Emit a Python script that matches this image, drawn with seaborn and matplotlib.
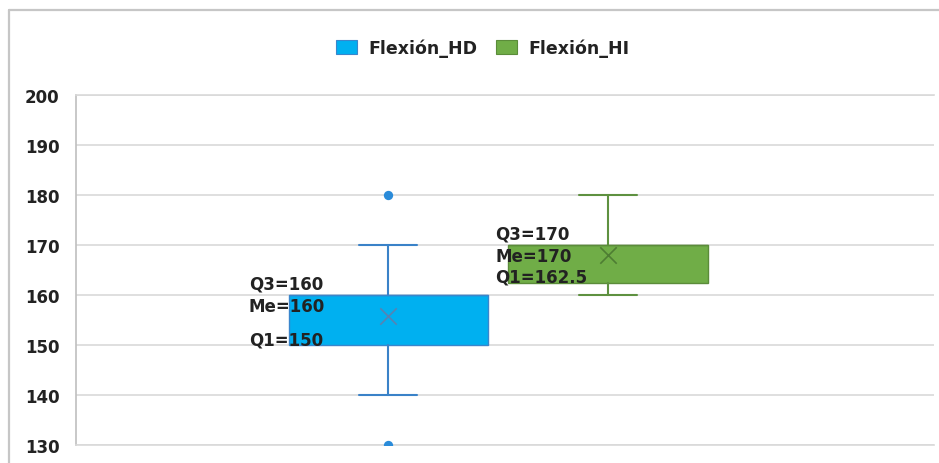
import matplotlib
matplotlib.use("Agg")
import matplotlib.pyplot as plt
from matplotlib.patches import Patch
from matplotlib.lines import Line2D
import pandas as pd
import seaborn as sns

# Box-and-whisker summary for each series
series = ["Flexión_HD", "Flexión_HI"]
q1 = [150, 162.5]
median = [160, 170]
q3 = [160, 170]
whisker_low = [140, 160]
whisker_high = [170, 180]
mean = [155.8, 168]
outliers = [[180, 130], []]
y_ticks = [130, 140, 150, 160, 170, 180, 190, 200]

fill_colors = ["#00B0F0", "#70AD47"]
edge_colors = ["#3A86CC", "#5B8C3A"]
whisker_colors = ["#3A82C8", "#5E9140"]
mean_colors = ["#5583B4", "#4E7D33"]
outlier_color = "#2A8BD9"

sns.set_theme(style="white")
plt.rcParams["font.family"] = ["DejaVu Sans"]

W, H = 939, 464
fig = plt.figure(figsize=(W / 100, H / 100), dpi=100)
fig.patch.set_facecolor("white")

# plot area in pixels: x 76..934, y 96..446
ax = fig.add_axes([76 / W, (H - 446) / H, (934 - 76) / W, (446 - 96) / H])
ax.set_facecolor("white")

px_per_unit = 219.5
ax.set_xlim((76 - 388.5) / px_per_unit, (934 - 388.5) / px_per_unit)
ax.set_ylim(130, 200)

positions = list(range(len(series)))
box_width = 199 / px_per_unit
cap_width = 58 / px_per_unit

for i, name in enumerate(series):
    stats = [dict(label=name, med=median[i], q1=q1[i], q3=q3[i],
                  whislo=whisker_low[i], whishi=whisker_high[i],
                  mean=mean[i], fliers=[])]
    ax.bxp(stats, positions=[positions[i]], widths=[box_width],
           capwidths=[cap_width], patch_artist=True, showmeans=False,
           showfliers=False, manage_ticks=False,
           boxprops=dict(facecolor=fill_colors[i], edgecolor=edge_colors[i], linewidth=1.0),
           whiskerprops=dict(color=whisker_colors[i], linewidth=1.5),
           capprops=dict(color=whisker_colors[i], linewidth=1.5),
           medianprops=dict(color=edge_colors[i], linewidth=1.0))

# mean markers
mean_df = pd.DataFrame({"pos": positions, "mean": mean, "series": series})
for i in positions:
    sub = mean_df[mean_df["pos"] == i]
    sns.scatterplot(data=sub, x="pos", y="mean", marker="x", s=140,
                    color=mean_colors[i], linewidth=1.2, ax=ax, legend=False, zorder=5)

# outliers
out_rows = [(positions[i], v) for i in positions for v in outliers[i]]
out_df = pd.DataFrame(out_rows, columns=["pos", "value"])
sns.scatterplot(data=out_df, x="pos", y="value", s=45, color=outlier_color,
                edgecolor=outlier_color, linewidth=0, ax=ax, legend=False, zorder=5)

# quartile / median labels, left of each box
label_dx = [-40, -13]  # pixels from the box's left edge
for i in positions:
    x_left = positions[i] - box_width / 2 + label_dx[i] / px_per_unit
    for text, val, dy in [(f"Q3={q3[i]:g}", q3[i], 6.5),
                          (f"Me={median[i]:g}", median[i], -16),
                          (f"Q1={q1[i]:g}", q1[i], 0.5)]:
        ax.annotate(text, xy=(x_left, val), xytext=(0, dy), textcoords="offset pixels",
                    ha="left", va="baseline", fontsize=12, fontweight="bold",
                    color="#222222", zorder=6)

# axes styling
ax.set_yticks(y_ticks)
ax.set_xticks([])
ax.set_xlabel("")
ax.set_ylabel("")
ax.yaxis.grid(True, color="#D9D9D9", linewidth=1.2)
ax.set_axisbelow(True)
ax.tick_params(axis="y", length=0, pad=12, labelsize=12, labelcolor="#222222")
for lab in ax.get_yticklabels():
    lab.set_fontweight("bold")
ax.spines["right"].set_visible(False)
ax.spines["left"].set_color("#BFBFBF")
ax.spines["left"].set_linewidth(1.2)
for s in ("top", "bottom"):
    ax.spines[s].set_color("#D9D9D9")
    ax.spines[s].set_linewidth(1.2)

# legend
handles = [Patch(facecolor=fill_colors[i], edgecolor=edge_colors[i], linewidth=0.8, label=series[i])
           for i in positions]
leg = fig.legend(handles=handles, loc="center", bbox_to_anchor=(483 / W, 1 - 49 / H),
                 ncol=2, frameon=False, prop=dict(weight="bold", size=12.5),
                 handlelength=1.2, handleheight=0.85, handletextpad=0.65,
                 columnspacing=1.1, borderaxespad=0)
for t in leg.get_texts():
    t.set_color("#222222")

# chart border
fig.add_artist(Line2D([9 / W, 1], [1 - 11 / H, 1 - 11 / H], transform=fig.transFigure,
                      color="#C6C6C6", linewidth=1.6))
fig.add_artist(Line2D([9 / W, 9 / W], [0, 1 - 11 / H], transform=fig.transFigure,
                      color="#C6C6C6", linewidth=1.6))

fig.savefig("out.png", dpi=100, facecolor="white")
